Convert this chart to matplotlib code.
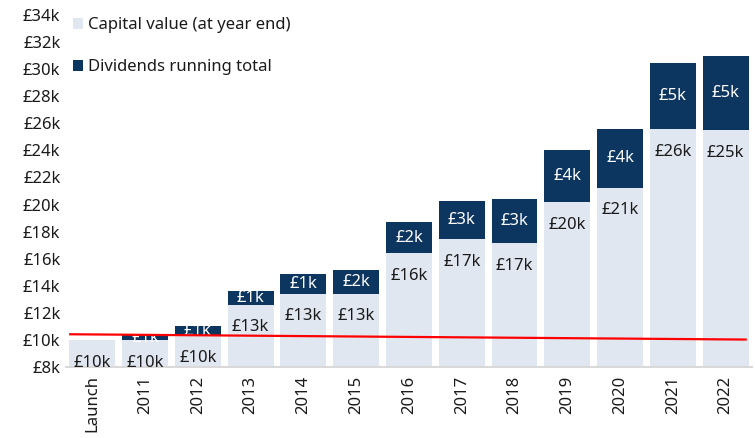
import matplotlib
matplotlib.use("Agg")
import matplotlib.pyplot as plt
import numpy as np

categories = ["Launch", "2011", "2012", "2013", "2014", "2015", "2016",
              "2017", "2018", "2019", "2020", "2021", "2022"]
capital = [10.0, 10.0, 10.3, 12.6, 13.4, 13.4, 16.4, 17.45, 17.15, 20.15, 21.25, 25.55, 25.5]
dividends = [0.0, 0.35, 0.7, 1.0, 1.45, 1.8, 2.3, 2.8, 3.25, 3.85, 4.35, 4.9, 5.45]
capital_labels = ["£10k", "£10k", "£10k", "£13k", "£13k", "£13k", "£16k",
                  "£17k", "£17k", "£20k", "£21k", "£26k", "£25k"]
dividend_labels = ["", "£1k", "£1k", "£1k", "£1k", "£2k", "£2k",
                   "£3k", "£3k", "£4k", "£4k", "£5k", "£5k"]
red_line_x = [-0.42, 12.38]
red_line_y = [10.42, 10.03]
yticks = list(range(8, 35, 2))

plt.rcParams['font.family'] = ['Noto Sans', 'DejaVu Sans']

light = "#E1E7F1"
dark = "#0C355F"
txt = "#1a1a1a"
fs = 12

fig = plt.figure(figsize=(7.55, 4.38), dpi=100)
ax = fig.add_axes([0.0874, 0.162, 0.9086, 0.804])

x = np.arange(len(categories))
b1 = ax.bar(x, capital, width=0.87, color=light, label="Capital value (at year end)", zorder=2)
b2 = ax.bar(x, dividends, width=0.87, bottom=capital, color=dark,
            label="Dividends running total", zorder=2)

for i, (c, lab) in enumerate(zip(capital, capital_labels)):
    ax.annotate(lab, xy=(i, c), xytext=(0, -10.5), textcoords="offset points",
                ha="center", va="top", fontsize=fs, color=txt, zorder=3)

ax.bar_label(b2, labels=dividend_labels, label_type="center", color="white",
             fontsize=fs, zorder=3)

ax.plot(red_line_x, red_line_y, color="#FF0000", lw=1.6, zorder=4)

ax.set_xlim(-0.5, len(categories) - 0.5)
ax.set_ylim(8, 34)
ax.set_yticks(yticks)
ax.set_yticklabels([f"£{v}k" for v in yticks], fontsize=fs, color=txt)
ax.set_xticks(x)
ax.set_xticklabels(categories, rotation=90, fontsize=fs, color=txt)
ax.tick_params(axis="both", length=0)
ax.tick_params(axis="y", pad=4)
ax.tick_params(axis="x", pad=6)

for s in ["top", "right", "left"]:
    ax.spines[s].set_visible(False)
ax.spines["bottom"].set_color("#D9D9D9")
ax.spines["bottom"].set_linewidth(1.5)

leg = ax.legend(loc="upper left", bbox_to_anchor=(0.0, 1.012), frameon=False,
                fontsize=fs, handlelength=0.6, handleheight=0.6, handletextpad=0.3,
                labelspacing=1.55, borderaxespad=0.0)
for t in leg.get_texts():
    t.set_color(txt)

fig.savefig("out.png", dpi=100)
